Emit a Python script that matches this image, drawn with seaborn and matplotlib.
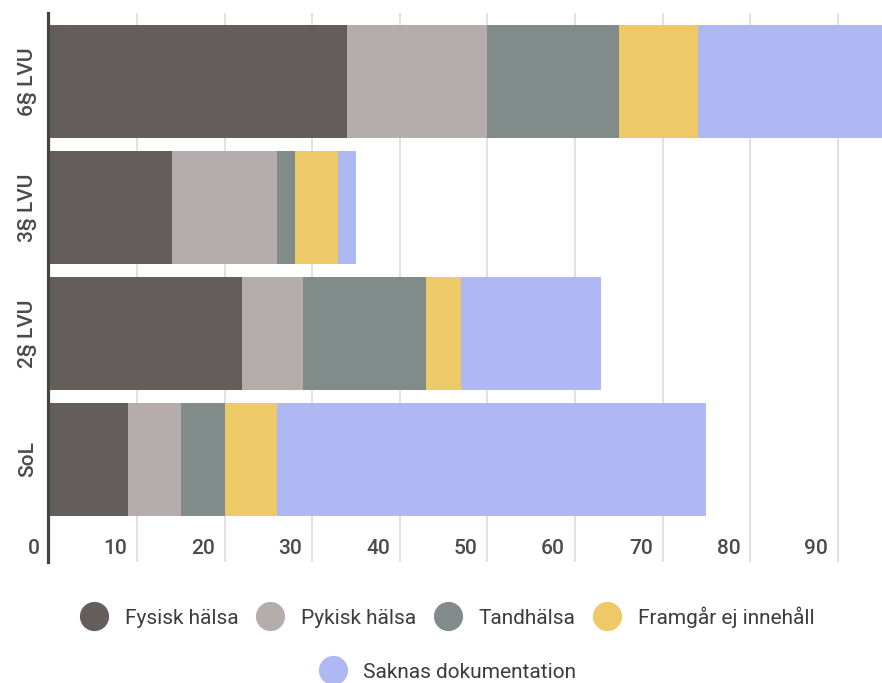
import numpy as np
import pandas as pd
import matplotlib
matplotlib.use("Agg")
import matplotlib.pyplot as plt
from matplotlib.lines import Line2D
from matplotlib.transforms import ScaledTranslation
import seaborn as sns

# Data
categories = ["6§ LVU", "3§ LVU", "2§ LVU", "SoL"]
series_names = ["Fysisk hälsa", "Pykisk hälsa", "Tandhälsa",
                "Framgår ej innehåll", "Saknas dokumentation"]
fysisk = [34, 14, 22, 9]
pykisk = [16, 12, 7, 6]
tand = [15, 2, 14, 5]
framgar = [9, 5, 4, 6]
saknas = [22, 2, 16, 49]
x_ticks = [0, 10, 20, 30, 40, 50, 60, 70, 80, 90]

colors = ["#635e5c", "#b5adab", "#818c8a", "#eec968", "#b0b8f4"]

sns.set_style("white")
plt.rcParams["font.family"] = ["Roboto", "DejaVu Sans"]

series = [fysisk, pykisk, tand, framgar, saknas]
cum = np.cumsum(np.array(series), axis=0)
df = pd.DataFrame({"kategori": categories})
for name, c in zip(series_names, cum):
    df[name] = c

DPI = 100
fig = plt.figure(figsize=(8.82, 6.83), dpi=DPI)
W, H = 882, 683
ax_left, ax_right, ax_top, ax_bottom = 48, 882, 13, 562
ax = fig.add_axes([ax_left / W, 1 - ax_bottom / H,
                   (ax_right - ax_left) / W, (ax_bottom - ax_top) / H])

# Stacked bars: draw cumulative totals from the outermost segment inward
for name, col in reversed(list(zip(series_names, colors))):
    sns.barplot(data=df, x=name, y="kategori", order=categories,
                color=col, saturation=1, width=0.9, errorbar=None,
                linewidth=0, ax=ax, zorder=2)

ax.set_xlim(-0.15, 95.05)
ax.set_ylim(3.816, -0.544)
ax.set_xlabel("")
ax.set_ylabel("")

# Grid
ax.set_xticks(x_ticks)
ax.grid(axis="x", color="#d9d9d9", linewidth=1.1, zorder=0)
ax.grid(axis="y", visible=False)
ax.set_axisbelow(True)

for s in ["top", "right", "bottom"]:
    ax.spines[s].set_visible(False)
ax.spines["left"].set_color("#444444")
ax.spines["left"].set_linewidth(2.3)
ax.spines["left"].set_zorder(5)

# Category labels
ax.tick_params(axis="y", length=0, pad=8, labelsize=15, labelcolor="#4a4a4a")
for lab in ax.get_yticklabels():
    lab.set_rotation(90)
    lab.set_va("center")
    lab.set_fontweight("medium")

# Value labels sit inside the plot area, just left of each grid line
ax.tick_params(axis="x", length=0, labelbottom=False)
offset = ScaledTranslation(-10 / DPI, 0, fig.dpi_scale_trans)
for v in x_ticks:
    ax.text(v, 14 / (ax_bottom - ax_top), str(v),
            transform=ax.get_xaxis_transform() + offset,
            ha="right", va="center", fontsize=15, color="#4a4a4a",
            fontweight="medium")

# Legend
handles = [Line2D([0], [0], marker="o", linestyle="none", markersize=20,
                  markerfacecolor=c, markeredgecolor=c) for c in colors]
leg_kw = dict(frameon=False, fontsize=15, handlelength=1.4, handletextpad=0.75,
              columnspacing=0.85, borderpad=0, labelcolor="#3c3c3c",
              loc="center")
fig.legend(handles[:4], series_names[:4], ncol=4,
           bbox_to_anchor=(447 / W, 1 - 617 / H), **leg_kw)
fig.legend(handles[4:], series_names[4:], ncol=1,
           bbox_to_anchor=(447 / W, 1 - 672 / H), **leg_kw)

fig.savefig("out.png", dpi=DPI)
